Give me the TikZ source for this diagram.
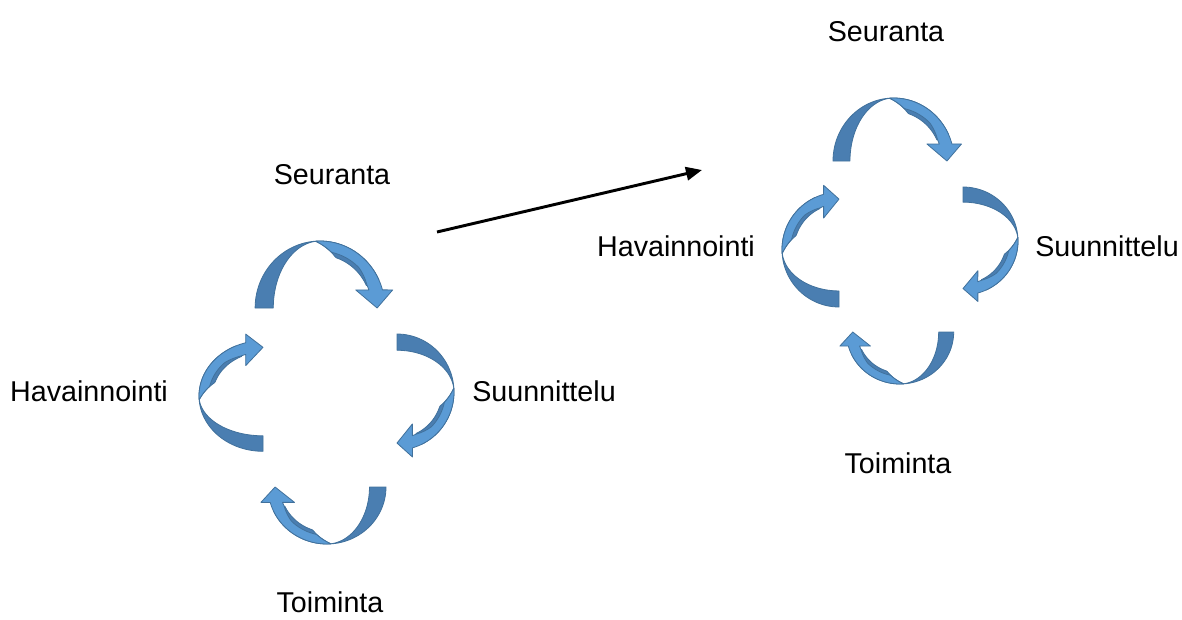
\documentclass[tikz,border=0pt]{standalone}
\usepackage{fontspec}
\setmainfont{Liberation Sans}
\usetikzlibrary{arrows.meta}

\definecolor{arcback}{HTML}{4A7EB1}
\definecolor{arcfront}{HTML}{5B9BD5}
\definecolor{arcline}{HTML}{41719C}

\tikzset{
  backface/.style={fill=arcback, draw=arcline, line width=0.6pt, line join=round},
  frontface/.style={fill=arcfront, draw=arcline, line width=0.6pt, line join=round},
  phase/.style={font=\fontsize{21.5}{25}\selectfont, anchor=base, inner sep=0pt},
}

% curved block arrow: centre x, centre y, rotation, length scale, height scale
\newcommand{\cyclearrow}[5]{%
  \begin{scope}[shift={(#1,#2)}, x=0.75pt, y=0.75pt, rotate=#3, xscale=#4, yscale=#5]
    % underside of the band
    \filldraw[backface] plot[domain=180:25, samples=50, variable=\ang] ({cos(\ang)}, {sin(\ang)})
      -- plot[domain=25:94, samples=40, variable=\ang]
         ({(0.79+0.21*max(0,(\ang-72)/22))*cos(\ang)}, {(0.79+0.21*max(0,(\ang-72)/22))*sin(\ang)})
      -- plot[domain=94:180, samples=40, variable=\ang] ({0.72*cos(\ang)}, {sin(\ang)})
      -- cycle;
    % front of the band with the head
    \filldraw[frontface] plot[domain=94:15.7, samples=40, variable=\ang] ({cos(\ang)}, {sin(\ang)})
      -- (1.12,0.27) -- (0.88,0) -- (0.55,0.27)
      -- plot[domain=19.7:94, samples=40, variable=\ang]
         ({(0.8+0.05*min(1,max(0,(\ang-25)/20))+0.15*max(0,(\ang-78)/16))*cos(\ang)},
          {(0.8+0.05*min(1,max(0,(\ang-25)/20))+0.15*max(0,(\ang-78)/16))*sin(\ang)})
      -- cycle;
  \end{scope}}

\begin{document}
\begin{tikzpicture}[x=0.75pt, y=-0.75pt]
\useasboundingbox (0,0) rectangle (1182,619);

% first cycle
\cyclearrow{320}{308}{0}{64.9}{67}
\cyclearrow{397}{392}{-90}{58}{57}
\cyclearrow{327}{487}{180}{59}{57}
\cyclearrow{263}{396}{90}{55.3}{64}
\node[phase] (seur1) at (332,184) {Seuranta};
\node[phase] (suun1) at (544,401) {Suunnittelu};
\node[phase] (toim1) at (330,612) {Toiminta};
\node[phase] (hava1) at (89,401) {Havainnointi};

% second cycle
\cyclearrow{893.6}{161}{0}{60.6}{63}
\cyclearrow{963}{241}{-90}{54}{55}
\cyclearrow{900}{332}{180}{53.7}{52}
\cyclearrow{839}{249.6}{90}{57.4}{57}
\node[phase] (seur2) at (886,41) {Seuranta};
\node[phase] (suun2) at (1107,256) {Suunnittelu};
\node[phase] (toim2) at (898,473) {Toiminta};
\node[phase] (hava2) at (676,256) {Havainnointi};

% transition
\coordinate (from) at (437,232);
\coordinate (to) at (702,170);
\draw[line width=2.2pt, -{Triangle[length=12pt, width=10pt]}] (from) -- (to);
\end{tikzpicture}
\end{document}
